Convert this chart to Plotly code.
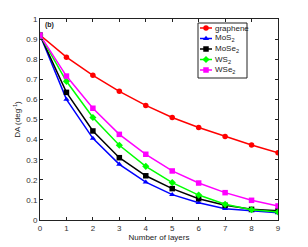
import plotly.graph_objects as go

layers = [0, 1, 2, 3, 4, 5, 6, 7, 8, 9]
graphene = [0.92, 0.81, 0.72, 0.64, 0.57, 0.51, 0.46, 0.415, 0.373, 0.335]
mos2 = [0.92, 0.60, 0.406, 0.277, 0.188, 0.126, 0.086, 0.056, 0.046, 0.036]
mose2 = [0.92, 0.635, 0.443, 0.31, 0.22, 0.156, 0.106, 0.073, 0.053, 0.046]
ws2 = [0.92, 0.69, 0.51, 0.372, 0.267, 0.186, 0.124, 0.078, 0.051, 0.04]
wse2 = [0.92, 0.716, 0.556, 0.426, 0.327, 0.244, 0.184, 0.136, 0.098, 0.07]

names = ["graphene", "MoS<sub>2</sub>", "MoSe<sub>2</sub>", "WS<sub>2</sub>", "WSe<sub>2</sub>"]
values = [graphene, mos2, mose2, ws2, wse2]
colors = ["#ff0000", "#0000ff", "#000000", "#00ff00", "#ff00ff"]
symbols = ["circle", "triangle-up", "square", "diamond", "square"]

W, H = 308, 247
L, R, T, B = 40, 30, 19, 27
PW, PH = W - L - R, H - T - B

def px_x(p):
    return (p - L) / PW

def px_y(p):
    return (H - B - p) / PH

fig = go.Figure()
for name, ys, col, sym in zip(names, values, colors, symbols):
    fig.add_trace(go.Scatter(
        x=layers, y=ys, name=name, mode="lines+markers",
        line=dict(color=col, width=1.5),
        marker=dict(color=col, symbol=sym, size=5.5),
        showlegend=False,
    ))

# manual compact legend (MATLAB style box)
shapes = [dict(type="rect", xref="paper", yref="paper",
               x0=px_x(198), x1=px_x(247), y0=px_y(78), y1=px_y(23),
               line=dict(color="#222", width=1), fillcolor="white", layer="below")]
annotations = []
item_y = [28, 38.5, 49, 59.5, 70]
lx, mx = [px_x(200), px_x(212)], px_x(206)
for i, (name, col, sym) in enumerate(zip(names, colors, symbols)):
    yy = px_y(item_y[i])
    fig.add_trace(go.Scatter(
        x=lx, y=[yy, yy], mode="lines", line=dict(color=col, width=1.5),
        xaxis="x2", yaxis="y2", showlegend=False, hoverinfo="skip"))
    fig.add_trace(go.Scatter(
        x=[mx], y=[yy], mode="markers", marker=dict(color=col, symbol=sym, size=5.5),
        xaxis="x2", yaxis="y2", showlegend=False, hoverinfo="skip"))
    annotations.append(dict(text=name, x=px_x(212.5), y=yy, xref="paper", yref="paper",
                            xanchor="left", yanchor="middle", showarrow=False,
                            font=dict(size=8, color="#222")))

annotations.append(dict(text="<b>(b)</b>", x=px_x(43), y=px_y(25), xref="paper", yref="paper",
                        xanchor="left", yanchor="middle", showarrow=False,
                        font=dict(size=7, color="#222")))

axis_common = dict(
    showline=True, linecolor="#222", linewidth=1, mirror="ticks",
    ticks="inside", ticklen=3, tickcolor="#222", showgrid=False,
    zeroline=False, tickfont=dict(size=8, color="#333"), automargin=False,
)

fig.update_layout(
    width=W, height=H,
    margin=dict(l=L, r=R, t=T, b=B),
    paper_bgcolor="white", plot_bgcolor="white",
    font=dict(family="Liberation Sans, Arial, sans-serif", size=8, color="#222"),
    xaxis=dict(range=[0, 9], dtick=1,
               title=dict(text="Number of layers", standoff=1, font=dict(size=8)), **axis_common),
    yaxis=dict(range=[0, 1], dtick=0.1,
               title=dict(text="DA (deg<sup>-1</sup>)", standoff=4, font=dict(size=8)), **axis_common),
    xaxis2=dict(range=[0, 1], overlaying="x", visible=False, fixedrange=True),
    yaxis2=dict(range=[0, 1], overlaying="y", visible=False, fixedrange=True),
    shapes=shapes,
    annotations=annotations,
    showlegend=False,
)

fig.write_html("out.html", config={"displayModeBar": False},
               post_script="document.body.style.margin='0';document.body.style.padding='0';")
